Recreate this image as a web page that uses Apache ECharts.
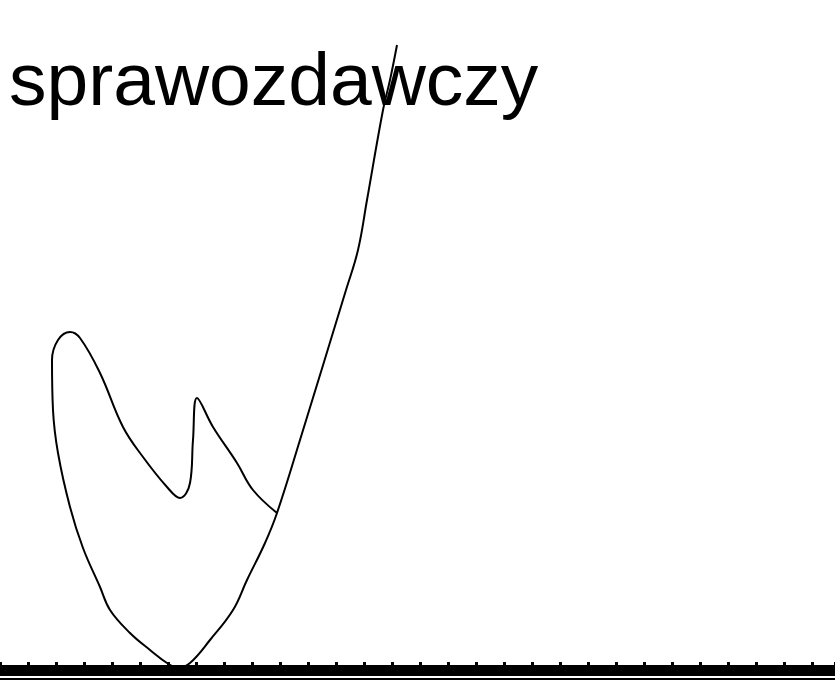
<!DOCTYPE html>
<html>
<head>
<meta charset="utf-8">
<title>sprawozdawczy</title>
<script src="https://cdn.jsdelivr.net/npm/echarts@6/dist/echarts.min.js"></script>
<style>
  html, body { margin: 0; padding: 0; background: #fff; }
  #chart { width: 835px; height: 680px; }
</style>
</head>
<body>
<div id="chart"></div>
<script>
// napis u gory
var titleText = 'sprawozdawczy'

// punkty krzywej w kolejnosci rysowania (x, y)
var pathX = [397, 390, 383, 367, 358, 346, 300, 277, 265, 247, 233, 210, 190, 178, 167, 150, 130, 110, 100, 83, 70, 58, 53, 52, 58, 70, 80, 100, 123, 143, 167, 180, 190, 193, 197, 213, 237, 253, 277]
var pathY = [625, 590, 560, 470, 420, 380, 230, 157, 127, 90, 60, 30, 7, 2, 7, 20, 37, 60, 83, 122, 163, 217, 260, 310, 330, 338, 332, 297, 243, 213, 183, 172, 187, 230, 272, 243, 207, 180, 157]

// zakresy osi
var xRange = [0, 835]
var yRange = [0, 670]
var tickStep = 28

var chart = echarts.init(document.getElementById('chart'))

var points = pathX.map(function (x, i) { return [x, pathY[i]] })

var option = {
  animation: false,
  backgroundColor: '#fff',
  grid: {
    left: 0,
    right: 0,
    top: 0,
    bottom: 10
  },
  // tytul jako tekst graficzny
  graphic: [{
    type: 'text',
    x: 9,
    y: 122,
    style: {
      text: titleText,
      font: '75px "Liberation Sans", Arial, sans-serif',
      fill: '#000',
      verticalAlign: 'bottom'
    }
  }],
  xAxis: [{
    type: 'value',
    min: xRange[0],
    max: xRange[1],
    interval: tickStep,
    axisLine: { show: true, lineStyle: { color: '#000', width: 11 } },
    axisTick: { show: true, inside: true, length: 8, lineStyle: { color: '#000', width: 3 } },
    axisLabel: { show: false },
    splitLine: { show: false }
  }, {
    type: 'value',
    position: 'bottom',
    offset: 9,
    min: xRange[0],
    max: xRange[1],
    axisLine: { show: true, lineStyle: { color: '#000', width: 3 } },
    axisTick: { show: false },
    axisLabel: { show: false },
    splitLine: { show: false }
  }],
  yAxis: {
    type: 'value',
    min: yRange[0],
    max: yRange[1],
    show: false
  },
  series: [{
    type: 'line',
    data: points,
    smooth: 0.4,
    symbol: 'none',
    clip: false,
    lineStyle: { color: '#000', width: 2 }
  }]
}

chart.setOption(option)
</script>
</body>
</html>
